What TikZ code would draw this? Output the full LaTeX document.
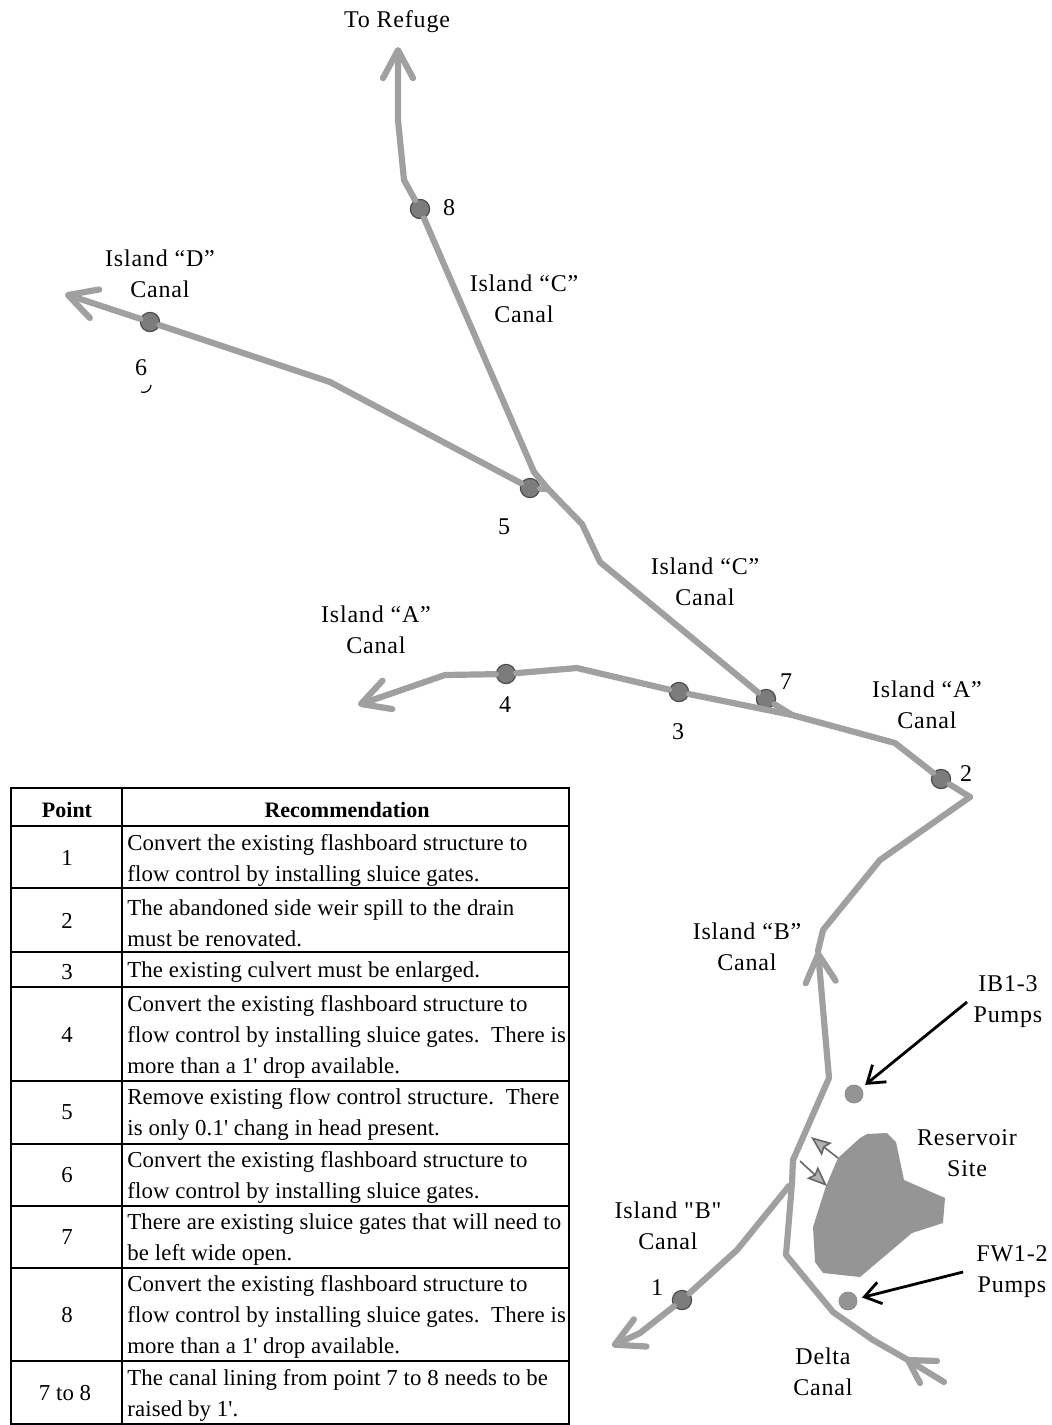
\documentclass[tikz,border=0pt]{standalone}
\usepackage{fontspec}
\usepackage{xcolor}
\usepackage{tikz}
\usetikzlibrary{arrows.meta}
\newfontfamily\labelfont[LetterSpace=3.4]{Liberation Serif}
\newfontfamily\cellfont[LetterSpace=0.5]{Liberation Serif}
\newfontfamily\headfont{Liberation Serif}
\definecolor{canalgray}{HTML}{A0A0A0}
\definecolor{siteink}{HTML}{959595}
\definecolor{pointfill}{HTML}{7C7C7C}
\definecolor{pumpfill}{HTML}{949494}

\begin{document}
\begin{tikzpicture}[x=0.5pt,y=-0.5pt,
 canal/.style={line width=3.1pt,draw=canalgray,line join=round,line cap=round},
 canalhead/.style={canal,-{Straight Barb[length=14pt,width=15pt,round]}},
 point/.style={circle,draw=black!70,line width=0.6pt,fill=pointfill,minimum size=9.6pt,inner sep=0pt},
 pump/.style={circle,draw=black!45,line width=0.4pt,fill=pumpfill,minimum size=9pt,inner sep=0pt},
 lbl/.style={font=\labelfont\fontsize{12}{15.5}\selectfont,align=center,inner sep=0pt},
 cell/.style={font=\cellfont\fontsize{11.4}{15.5}\selectfont,align=left,anchor=west,inner sep=0pt},
 num/.style={font=\cellfont\fontsize{11.4}{15.5}\selectfont,align=center,inner sep=0pt},
 head/.style={font=\headfont\bfseries\fontsize{11}{15.5}\selectfont,inner sep=0pt},
 rule/.style={line width=1.1pt,draw=black},
 pumparrow/.style={line width=1.4pt,draw=black,shorten >=2.5pt,-{Straight Barb[length=8pt,width=11pt]}},
 gatearrow/.style={line width=0.8pt,draw=black!60,-{Stealth[length=10pt,width=8pt,fill=black!30,inset=1.5pt]}}]
\useasboundingbox (0,0) rectangle (1052,1425);

% reservoir site
\coordinate (siteA) at (838,1158);
\coordinate (siteB) at (800,1161);
\fill[siteink] (867,1134) -- (887,1133) -- (896,1142) -- (904,1180) -- (945,1198) -- (943,1223) -- (912,1233)
 -- (860,1277) -- (823,1273) -- (815,1262) -- (813,1227) -- (826,1186) -- (838,1158) -- (860,1138) -- cycle;

% points
\node[point] (p1) at (682,1300) {};
\node[point] (p2) at (941,779) {};
\node[point] (p3) at (679,692) {};
\node[point] (p4) at (506,674) {};
\node[point] (p5) at (530,488) {};
\node[point] (p6) at (150,322) {};
\node[point] (p7) at (766,699) {};
\node[point] (p8) at (420,209) {};
\node[pump] (ib) at (854,1094) {};
\node[pump] (fw) at (848,1301) {};

% bends
\coordinate (jct) at (548,489);
\coordinate (jctA) at (792,715);
\coordinate (turn) at (970,797);
\coordinate (fork) at (908,1360);
\coordinate (ibhead) at (818,951);
\coordinate (split) at (789,1186);
\coordinate (top) at (793,1160);

% canals
\draw[canalhead] (jct) -- (534,472) -- (p8) -- (404,180) -- (398,120) -- (398,47);
\draw[canalhead] (p5) -- (330,382) -- (p6) -- (65,294);
\draw[canal] (p5) -- (jct);
\draw[canal] (jct) -- (582,524) -- (600,562) -- (p7) -- (jctA);
\draw[canalhead] (turn) -- (p2) -- (895,743) -- (jctA) -- (p3) -- (577,668) -- (p4) -- (445,675) -- (358,705);
\draw[canal] (ibhead) -- (823,930) -- (880,860) -- (turn);
\draw[canalhead] (top) -- (829,1078) -- (ibhead);
\draw[canalhead] (split) -- (737,1250) -- (p1) -- (640,1333) -- (612,1346);
\draw[canal] (top) -- (792,1183) -- (786,1255) -- (833,1312) -- (873,1340) -- (fork) -- (944,1382);
\draw[canal] (fork) -- (937,1361);
\draw[canal] (fork) -- (920,1383);

% arrows at the pumps and reservoir
\draw[pumparrow] (967,1002) -- (ib);
\draw[pumparrow] (963,1272) -- (fw);
\draw[gatearrow] (siteA) -- (811,1137);
\draw[gatearrow] (siteB) -- (827,1186);

% canal labels
\node[lbl] (refuge) at (397,22) {To Refuge};
\node[lbl] (lbl8) at (449,208) {8};
\node[lbl] (lblD) at (160,274) {Island “D”\\Canal};
\node[lbl] (lblC) at (524,299) {Island “C”\\Canal};
\node[lbl] (lbl6) at (141,368) {6};
\draw[line width=0.6pt] (141,392) .. controls (145,393) and (150,392) .. (151,385);
\node[lbl] (lbl5) at (504,527) {5};
\node[lbl] (lblCc) at (705,582) {Island “C”\\Canal};
\node[lbl] (lbl7) at (786,682) {7};
\node[lbl] (lblA) at (376,630) {Island “A”\\Canal};
\node[lbl] (lbl4) at (505,705) {4};
\node[lbl] (lbl3) at (678,732) {3};
\node[lbl] (lblAa) at (927,705) {Island “A”\\Canal};
\node[lbl] (lbl2) at (966,774) {2};
\node[lbl] (lblB) at (747,947) {Island “B”\\Canal};
\node[lbl] (lblIB) at (1008,1002) {IB1-3\\Pumps};
\node[lbl] (lblSite) at (967,1153) {Reservoir\\Site};
\node[lbl] (lblBb) at (668,1226) {Island "B"\\Canal};
\node[lbl] (lbl1) at (657,1288) {1};
\node[lbl] (lblFW) at (1012,1272) {FW1-2\\Pumps};
\node[lbl] (lblDelta) at (823,1372) {Delta\\Canal};

% table
\draw[rule] (11,788) rectangle (569,1424);
\draw[rule] (122,788) -- (122,1424);
\foreach \y in {826,888,952,987,1081,1144,1206,1268,1361}
 \draw[rule] (11,\y) -- (569,\y);
\node[head] (hpoint) at (67,810) {Point};
\node[head] (hrec) at (347,810) {Recommendation};
\node[num] (n1) at (67,858) {1};
\node[cell] (r1) at (127,860) {Convert the existing flashboard structure to\\flow control by installing sluice gates.};
\node[num] (n2) at (67,921) {2};
\node[cell] (r2) at (127,923) {The abandoned side weir spill to the drain\\must be renovated.};
\node[num] (n3) at (67,972) {3};
\node[cell] (r3) at (127,972) {The existing culvert must be enlarged.};
\node[num] (n4) at (67,1035) {4};
\node[cell] (r4) at (127,1037) {Convert the existing flashboard structure to\\flow control by installing sluice gates.\ \ There is\\more than a 1' drop available.};
\node[num] (n5) at (67,1112) {5};
\node[cell] (r5) at (127,1114) {Remove existing flow control structure.\ \ There\\is only 0.1' chang in head present.};
\node[num] (n6) at (67,1175) {6};
\node[cell] (r6) at (127,1177) {Convert the existing flashboard structure to\\flow control by installing sluice gates.};
\node[num] (n7) at (67,1237) {7};
\node[cell] (r7) at (127,1239) {There are existing sluice gates that will need to\\be left wide open.};
\node[num] (n8) at (67,1315) {8};
\node[cell] (r8) at (127,1317) {Convert the existing flashboard structure to\\flow control by installing sluice gates.\ \ There is\\more than a 1' drop available.};
\node[num] (n9) at (65,1393) {7 to 8};
\node[cell] (r9) at (127,1395) {The canal lining from point 7 to 8 needs to be\\raised by 1'.};
\end{tikzpicture}
\end{document}
